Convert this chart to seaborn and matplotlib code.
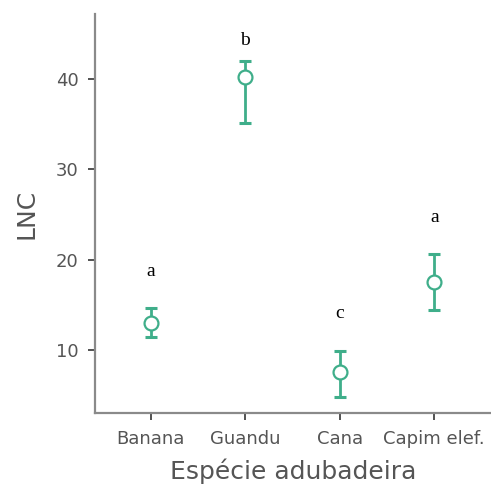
import matplotlib
matplotlib.use("Agg")
import matplotlib.pyplot as plt
import seaborn as sns
import pandas as pd
import numpy as np

especies = ["Banana", "Guandu", "Cana", "Capim elef."]
lnc_media = [13.0, 40.2, 7.5, 17.5]
ic_inferior = [11.4, 35.1, 4.8, 14.4]
ic_superior = [14.6, 42.0, 9.9, 20.6]
letras = ["a", "b", "c", "a"]
letra_y = [18.7, 44.3, 14.0, 24.7]
y_ticks = [10, 20, 30, 40]

verde = "#3fae8a"
cinza = "#555555"

df = pd.DataFrame({"especie": especies, "lnc": lnc_media,
                   "lo": ic_inferior, "hi": ic_superior})

sns.set_theme(style="ticks")
fig = plt.figure(figsize=(4.91, 4.97), dpi=100)
ax = fig.add_axes([95 / 491, 84 / 497, 396 / 491, 399 / 497])

pos = np.arange(len(especies))
ax.errorbar(pos, df["lnc"],
            yerr=[df["lnc"] - df["lo"], df["hi"] - df["lnc"]],
            fmt="none", ecolor=verde, elinewidth=2.0, capsize=4.5,
            capthick=2.2, zorder=2)
sns.scatterplot(data=df, x="especie", y="lnc", ax=ax, s=100,
                facecolor="white", edgecolor=verde, linewidth=1.6,
                zorder=3, legend=False)

for x, t, y in zip(pos, letras, letra_y):
    ax.text(x, y, t, ha="center", va="center", fontsize=14,
            family="Liberation Serif", color="black")

ax.set_xlim(-0.59, 3.6)
ax.set_ylim(3.0, 47.2)
ax.set_yticks(y_ticks)
ax.set_xticks(pos)
ax.set_xticklabels(especies)
ax.set_xlabel("Espécie adubadeira", fontsize=18, color=cinza, labelpad=8)
ax.set_ylabel("LNC", fontsize=18, color=cinza, labelpad=12)
ax.tick_params(axis="both", labelsize=13, labelcolor=cinza,
               color="#333333", length=5, width=1.2, pad=7)
for s in ["top", "right"]:
    ax.spines[s].set_visible(False)
for s in ["left", "bottom"]:
    ax.spines[s].set_color("#8a8a8a")
    ax.spines[s].set_linewidth(1.6)
for lab in ax.get_xticklabels() + ax.get_yticklabels():
    lab.set_family("DejaVu Sans")

fig.savefig("out.png", dpi=100, facecolor="white")
